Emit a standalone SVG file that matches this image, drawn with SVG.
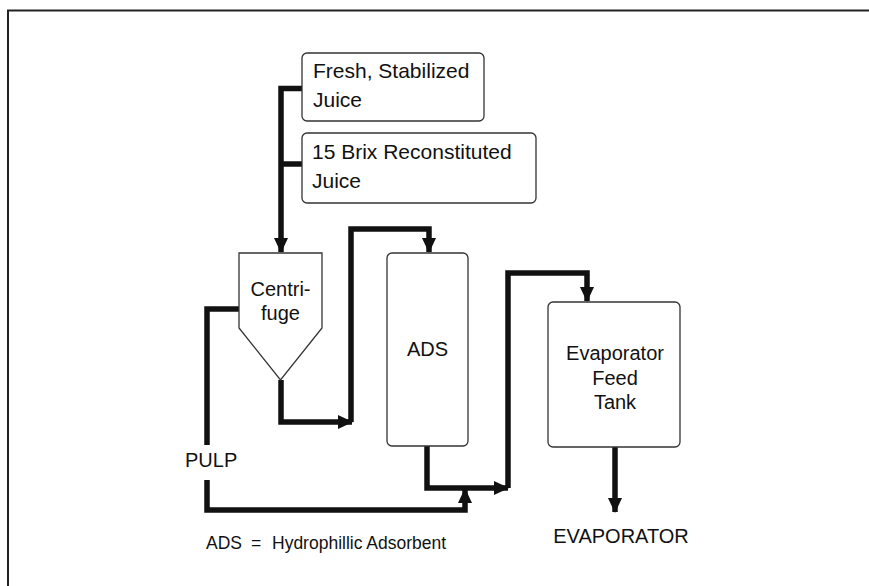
<svg xmlns="http://www.w3.org/2000/svg" width="869" height="586" viewBox="0 0 869 586">
<style>
.box{fill:#fff;stroke:#333;stroke-width:1.3}
.flow{fill:none;stroke:#111;stroke-width:5.5;stroke-linejoin:miter}
.t{font-family:"Liberation Sans",Arial,sans-serif;font-size:20px;fill:#111}
.big{font-size:21px}
.c{text-anchor:middle}
.leg{font-size:17.5px}
</style>
<defs>
<marker id="ah" viewBox="0 0 15 14" refX="14" refY="7" markerWidth="15" markerHeight="14" markerUnits="userSpaceOnUse" orient="auto">
<path d="M0,0 L15,7 L0,14 Z" fill="#111"/>
</marker>
</defs>
<rect width="869" height="586" fill="#fff"/>
<path d="M8,586 V10.5 H869" fill="none" stroke="#222" stroke-width="2"/>
<g id="connectors">
<path class="flow" d="M302,88.5 H281 V252" marker-end="url(#ah)"/>
<path class="flow" d="M302,164 H281"/>
<path class="flow" d="M281,380 V422 H352" marker-end="url(#ah)"/>
<path class="flow" d="M351,422 V229 H429 V252" marker-end="url(#ah)"/>
<path class="flow" d="M239,309 H207 V445"/>
<path class="flow" d="M207,480 V510 H465 V489" marker-end="url(#ah)"/>
<path class="flow" d="M427,446 V488 H508" marker-end="url(#ah)"/>
<path class="flow" d="M508,488 V273 H587 V301" marker-end="url(#ah)"/>
<path class="flow" d="M615,447 V512" marker-end="url(#ah)"/>
</g>
<g id="fresh">
<rect class="box" x="302" y="53" width="182" height="68" rx="5"/>
<text class="t big" x="313" y="78">Fresh, Stabilized</text>
<text class="t big" x="313" y="107">Juice</text>
</g>
<g id="brix">
<rect class="box" x="302" y="133" width="234" height="70" rx="5"/>
<text class="t big" x="312" y="159">15 Brix Reconstituted</text>
<text class="t big" x="312" y="188">Juice</text>
</g>
<g id="centrifuge">
<path class="box" d="M239,253 H322 V328 L280.5,380 L239,328 Z"/>
<text class="t c" x="280.5" y="296">Centri-</text>
<text class="t c" x="280.5" y="320">fuge</text>
</g>
<g id="ads">
<rect class="box" x="387" y="253" width="81" height="193" rx="5"/>
<text class="t c" x="427.5" y="356">ADS</text>
</g>
<g id="eft">
<rect class="box" x="548" y="302" width="132" height="145" rx="5"/>
<text class="t c" x="615" y="360">Evaporator</text>
<text class="t c" x="615" y="385">Feed</text>
<text class="t c" x="615" y="409">Tank</text>
</g>
<g id="pulp">
<text class="t" x="185" y="467">PULP</text>
</g>
<g id="evaporator">
<text class="t c" x="621" y="543">EVAPORATOR</text>
</g>
<g id="legend">
<text class="t leg" x="206" y="549">ADS<tspan x="251">=</tspan><tspan x="272">Hydrophillic Adsorbent</tspan></text>
</g>
</svg>
